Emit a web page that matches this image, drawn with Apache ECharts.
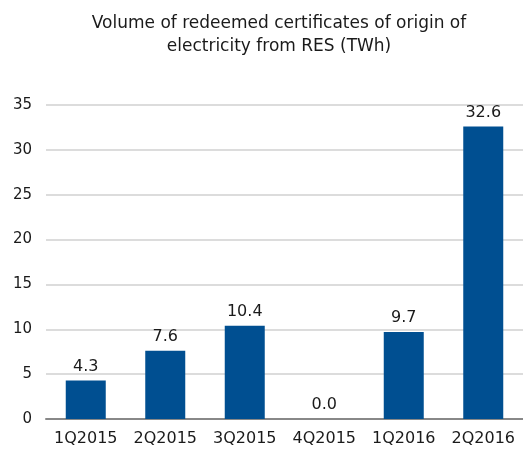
<!DOCTYPE html>
<html>
<head>
<meta charset="utf-8">
<script src="https://cdn.jsdelivr.net/npm/echarts@6/dist/echarts.min.js"></script>
<style>
  html, body { margin: 0; padding: 0; background: #fff; }
  #chart { width: 523px; height: 451px; }
</style>
</head>
<body>
<div id="chart"></div>
<script>
var quarters = ['1Q2015', '2Q2015', '3Q2015', '4Q2015', '1Q2016', '2Q2016'];
var volumes = [4.3, 7.6, 10.4, 0.0, 9.7, 32.6];
var yTicks = { min: 0, max: 35, step: 5 };

var font = '"DejaVu Sans", Verdana, sans-serif';
var Chart = echarts.init(document.getElementById('chart'));
Chart.setOption({
    animation: false,
    title: {
        text: 'Volume of redeemed certificates of origin of\nelectricity from RES (TWh)',
        left: 274,
        textAlign: 'center',
        top: 7,
        textStyle: {
            color: '#1a1a1a',
            fontSize: 17,
            fontWeight: 'normal',
            fontFamily: font,
            lineHeight: 23
        }
    },
    grid: {
        left: 46,
        right: -5,
        top: 105,
        bottom: 32
    },
    xAxis: {
        type: 'category',
        data: quarters,
        axisLine: { lineStyle: { color: '#888888', width: 2 } },
        axisTick: { show: false },
        axisLabel: {
            color: '#1a1a1a',
            fontSize: 16,
            fontFamily: font,
            margin: 12,
            interval: 0
        }
    },
    yAxis: {
        type: 'value',
        min: yTicks.min,
        max: yTicks.max,
        interval: yTicks.step,
        axisLine: { show: false },
        axisTick: { show: false },
        splitLine: { lineStyle: { color: '#d0d0d0', width: 1.5 } },
        axisLabel: {
            color: '#1a1a1a',
            fontSize: 15,
            fontFamily: font,
            margin: 14
        }
    },
    series: [{
        type: 'bar',
        data: volumes,
        barWidth: 40,
        itemStyle: { color: '#004f91' },
        label: {
            show: true,
            position: 'top',
            distance: 6,
            color: '#1a1a1a',
            fontSize: 16,
            fontFamily: font,
            formatter: function (p) { return p.value.toFixed(1); }
        }
    }]
});
</script>
</body>
</html>
